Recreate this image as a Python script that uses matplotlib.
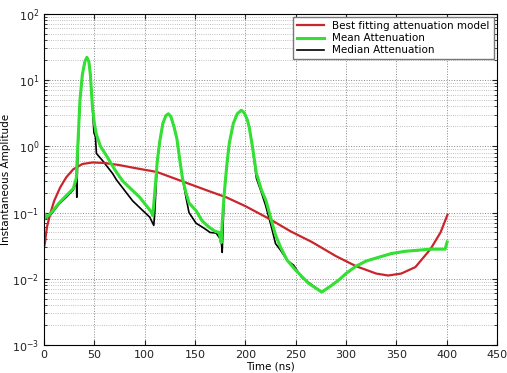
import matplotlib
matplotlib.use('Agg')
import matplotlib.pyplot as plt
from matplotlib.ticker import LogLocator

# Best fitting attenuation model (red)
fit_t = [0, 1, 2, 3, 6, 10, 16, 22, 29, 38, 48, 60, 75, 90, 112, 135, 164,
         181, 200, 224, 245, 266, 290, 310, 330, 342, 355, 369, 384, 394, 401]
fit_a = [0.03, 0.036, 0.049, 0.062, 0.095, 0.15, 0.24, 0.34, 0.45, 0.54,
         0.57, 0.56, 0.52, 0.47, 0.41, 0.305, 0.21, 0.17, 0.125, 0.08, 0.052,
         0.036, 0.022, 0.0155, 0.012, 0.0112, 0.012, 0.015, 0.028, 0.05,
         0.093]

# Mean attenuation (green)
mean_t = [0, 0.5, 2, 6, 15, 22, 29, 32, 34, 35.6, 38, 40.5, 42.5, 44.5, 46,
          48, 50, 52, 56, 62, 70, 78, 95, 107, 108, 110, 112.5, 115, 118, 121,
          123.5, 126, 129, 132, 135, 137.5, 141, 144, 151, 157, 164, 170, 174,
          176, 177, 179, 181.5, 184, 188, 192, 196, 199, 202, 204, 207, 211,
          216, 220.6, 225.5, 230, 235, 241.6, 250, 263, 276, 285, 293, 300,
          310, 320, 332, 345, 359, 372, 384, 398.6, 400.6]
mean_a = [0.08, 0.095, 0.085, 0.095, 0.14, 0.18, 0.23, 0.33, 1.5, 4.9, 12,
          19, 22, 19, 12, 4, 2.2, 1.5, 1.0, 0.72, 0.45, 0.30, 0.17, 0.1, 0.09,
          0.2, 0.6, 1.2, 2.2, 2.9, 3.1, 2.8, 2.0, 1.3, 0.6, 0.33, 0.2, 0.14,
          0.107, 0.075, 0.06, 0.052, 0.05, 0.035, 0.07, 0.19, 0.5, 1.1, 2.2,
          3.1, 3.5, 3.2, 2.5, 1.9, 1.0, 0.39, 0.22, 0.15, 0.08, 0.046, 0.030,
          0.019, 0.0135, 0.0085, 0.0063, 0.0078, 0.0096, 0.012, 0.0155,
          0.0185, 0.021, 0.024, 0.026, 0.027, 0.028, 0.028, 0.036]

# Median attenuation (black)
med_t = [0, 2, 6, 15, 22, 29, 31, 32, 32.5, 33, 34, 35.6, 38, 40.5, 42.5,
         44.5, 46, 48, 49.5, 51, 52, 58, 68, 72, 88, 105, 109, 110, 112.5,
         115, 118, 121, 123.5, 126, 129, 132, 135, 137.5, 141, 144, 151, 159,
         165, 171, 176, 177, 178, 179, 181.5, 184, 188, 192, 196, 199, 202,
         204, 207, 211, 216, 220, 223.5, 226, 230, 235, 241.6, 248, 256, 273,
         276, 285, 293, 300, 310, 320, 332, 345, 359, 372, 384, 398.6]
med_a = [0.08, 0.082, 0.09, 0.135, 0.17, 0.22, 0.27, 0.35, 0.17, 0.4, 1.2,
         4.9, 12, 19, 22, 19, 12, 4, 1.6, 1.4, 0.78, 0.61, 0.39, 0.31, 0.15,
         0.085, 0.064, 0.1, 0.6, 1.2, 2.2, 2.9, 3.1, 2.8, 2.0, 1.3, 0.6, 0.33,
         0.17, 0.1, 0.069, 0.058, 0.05, 0.049, 0.038, 0.025, 0.07, 0.19, 0.5,
         1.1, 2.2, 3.1, 3.5, 3.2, 2.5, 1.9, 1.0, 0.33, 0.2, 0.13, 0.083, 0.06,
         0.034, 0.027, 0.019, 0.016, 0.0105, 0.0068, 0.0063, 0.0078, 0.0096,
         0.012, 0.0155, 0.0185, 0.021, 0.024, 0.026, 0.027, 0.028, 0.028]

x_ticks = [0, 50, 100, 150, 200, 250, 300, 350, 400, 450]

# Create figure
fig = plt.figure(figsize=(5.07, 3.73), dpi=100)
ax = fig.add_axes([0.087, 0.075, 0.893, 0.888])

# Add data to figure
ax.plot(fit_t, fit_a, color='#c8262c', linewidth=1.6,
        label='Best fitting attenuation model')
ax.plot(mean_t, mean_a, color='#33e033', linewidth=2.2,
        label='Mean Attenuation')
ax.plot(med_t, med_a, color='black', linewidth=1.2,
        label='Median Attenuation', zorder=1.9)

ax.set_yscale('log')
ax.set_xlim(0, 450)
ax.set_ylim(1e-3, 1e2)
ax.set_xticks(x_ticks)
ax.yaxis.set_major_locator(LogLocator(base=10, numticks=10))
ax.yaxis.set_minor_locator(LogLocator(base=10, subs=range(2, 10), numticks=20))

# Grid and MATLAB-ish ticks
ax.grid(True, which='major', linestyle=':', color='#888888', linewidth=0.7)
ax.grid(True, which='minor', axis='y', linestyle=':', color='#aaaaaa',
        linewidth=0.6)
ax.tick_params(which='both', direction='in', top=True, right=True,
               labelsize=8, colors='#222222')
ax.tick_params(which='minor', length=2)

# Add axis names
ax.set_xlabel('Time (ns)', fontsize=7.5, labelpad=1)
ax.set_ylabel('Instantaneous Amplitude', fontsize=7.5, labelpad=1)

ax.legend(loc='upper right', fontsize=7.5, fancybox=False, framealpha=1,
          edgecolor='#777777', borderaxespad=0.3, handlelength=2.6,
          labelspacing=0.2)

fig.savefig('out.png', dpi=100)
